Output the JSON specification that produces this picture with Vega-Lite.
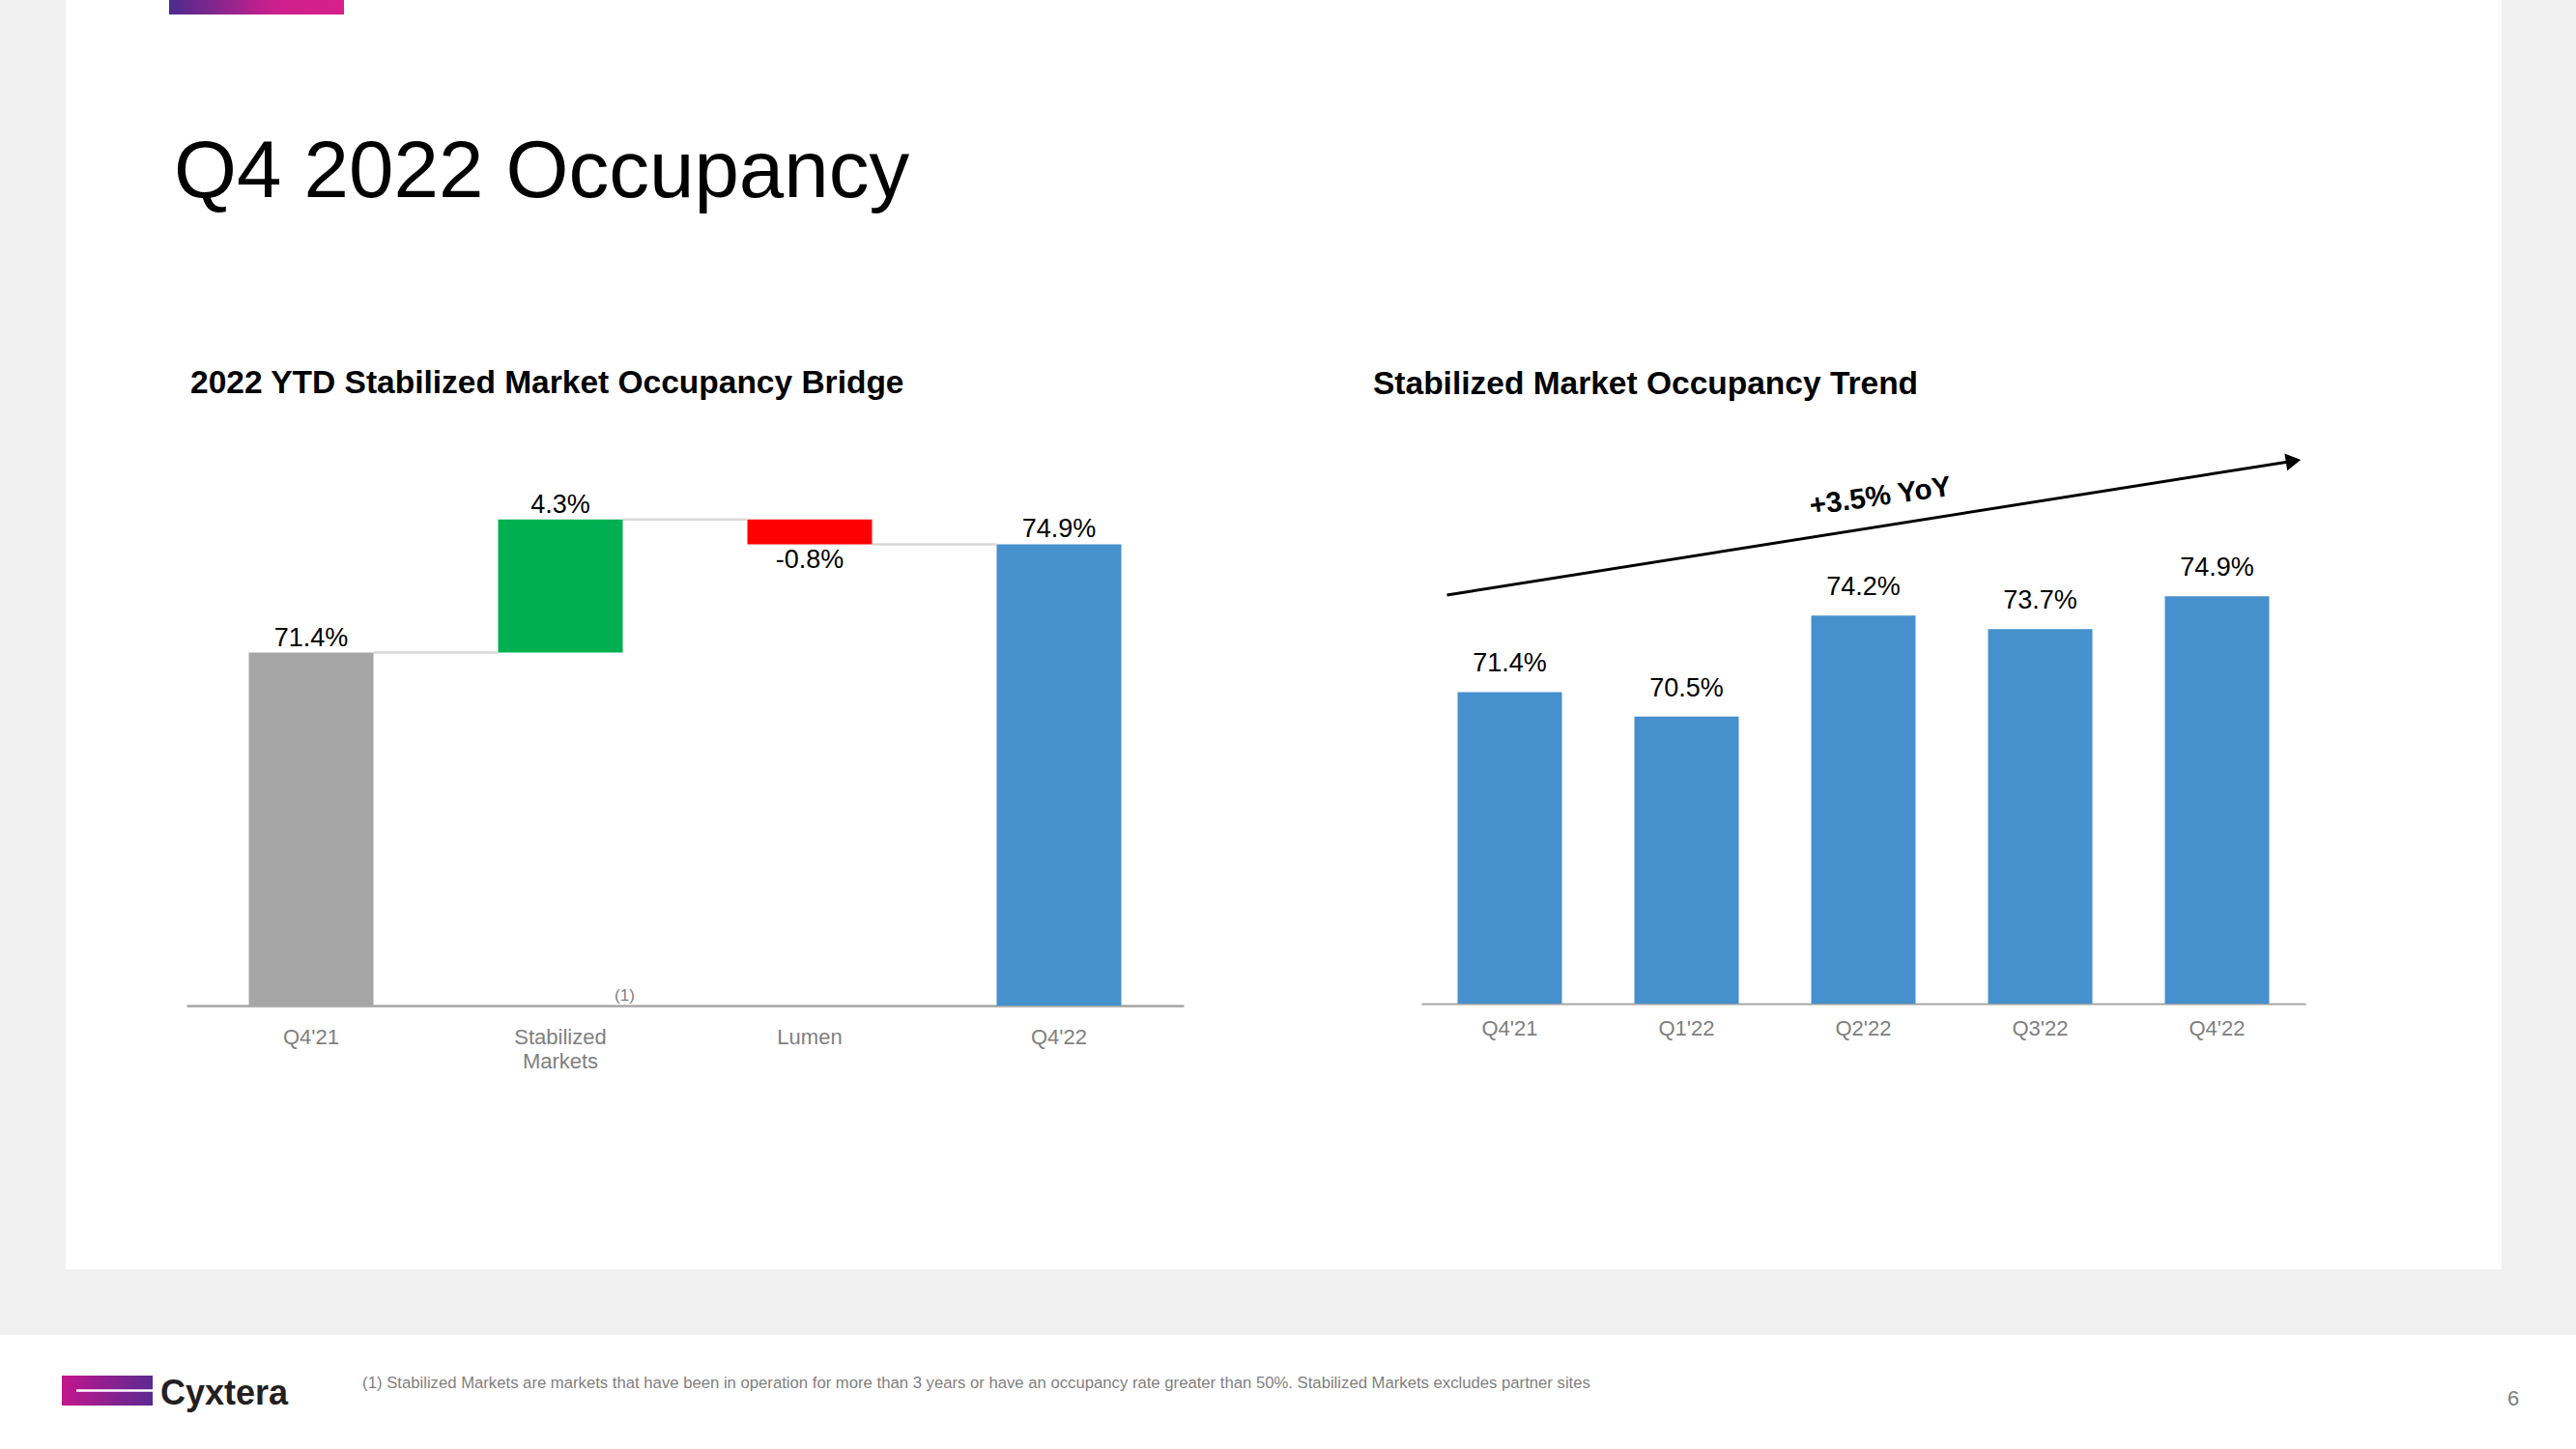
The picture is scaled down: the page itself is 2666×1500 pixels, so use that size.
{
  "$schema": "https://vega.github.io/schema/vega-lite/v6.json",
  "background": "white",
  "padding": 0,
  "config": {
    "font": "Liberation Sans",
    "view": {"stroke": null},
    "concat": {"spacing": 0}
  },
  "vconcat": [
    {
      "hconcat": [
        {"width": 68, "height": 1314, "view": {"fill": "#f0f0f0"}, "data": {"values": [{}]}, "mark": "text", "encoding": {"text": {"value": ""}}},
        {
          "vconcat": [
            {
              "hconcat": [
                {"width": 107, "height": 137, "data": {"values": [{}]}, "mark": "text", "encoding": {"text": {"value": ""}}},
                {"width": 181, "height": 15, "data": {"values": [{}]},
                 "mark": {"type": "rect", "color": {"gradient": "linear", "x1": 0, "x2": 1, "y1": 0, "y2": 0,
                   "stops": [{"offset": 0, "color": "#4b2b8d"}, {"offset": 0.6, "color": "#cc1f8e"}, {"offset": 1, "color": "#d8208a"}]}},
                 "encoding": {}}
              ]
            },
            {
              "title": {"text": "Q4 2022 Occupancy", "anchor": "start", "frame": "group", "dx": 112, "offset": 158, "fontSize": 83.5, "fontWeight": "normal", "color": "#000000"},
              "hconcat": [
                {"width": 125, "height": 20, "data": {"values": [{}]}, "mark": "text", "encoding": {"text": {"value": ""}}},
                {
                  "spacing": 196,
                  "hconcat": [
                    {
                      "width": 1032,
                      "height": 568,
                      "title": {"text": "2022 YTD Stabilized Market Occupancy Bridge", "anchor": "start", "frame": "group", "dx": 4, "offset": 59, "fontSize": 33.5, "fontWeight": "bold", "color": "#000000"},
                      "layer": [
                        {
                          "data": {"values": [
                            {"cat": "Q4'21", "cat2": "Stabilized Markets", "level": 71.4},
                            {"cat": "Stabilized Markets", "cat2": "Lumen", "level": 75.7},
                            {"cat": "Lumen", "cat2": "Q4'22", "level": 74.9}
                          ]},
                          "mark": {"type": "rule", "color": "#d9d9d9", "strokeWidth": 2.5},
                          "encoding": {
                            "x": {"field": "cat", "type": "nominal", "title": null, "bandPosition": 1,
                                  "scale": {"domain": ["Q4'21", "Stabilized Markets", "Lumen", "Q4'22"], "paddingInner": 0.5, "paddingOuter": 0.25},
                                  "axis": {"ticks": false, "domainColor": "#a6a6a6", "domainWidth": 2.5, "labelColor": "#7f7f7f", "labelFontSize": 22, "labelPadding": 22, "labelAngle": 0, "labelLineHeight": 25, "grid": false,
                                           "labelExpr": "datum.value == 'Stabilized Markets' ? ['Stabilized', 'Markets'] : datum.label"}},
                            "x2": {"field": "cat2", "bandPosition": 0},
                            "y": {"field": "level", "type": "quantitative", "scale": {"domain": [60, 77.72], "nice": false, "zero": false}, "axis": null}
                          }
                        },
                        {
                          "data": {"name": "bridge", "values": [
                            {"cat": "Q4'21", "lo": 0, "hi": 71.4, "kind": "Q4'21", "label": "71.4%"},
                            {"cat": "Stabilized Markets", "lo": 71.4, "hi": 75.7, "kind": "Increase", "label": "4.3%"},
                            {"cat": "Lumen", "lo": 74.9, "hi": 75.7, "kind": "Decrease", "label": "-0.8%"},
                            {"cat": "Q4'22", "lo": 0, "hi": 74.9, "kind": "Q4'22", "label": "74.9%"}
                          ]},
                          "layer": [
                            {
                              "mark": {"type": "bar", "clip": true},
                              "encoding": {
                                "x": {"field": "cat", "type": "nominal", "title": null,
                                      "scale": {"domain": ["Q4'21", "Stabilized Markets", "Lumen", "Q4'22"], "paddingInner": 0.5, "paddingOuter": 0.25}},
                                "y": {"field": "hi", "type": "quantitative", "scale": {"domain": [60, 77.72], "nice": false, "zero": false}, "axis": null},
                                "y2": {"field": "lo"},
                                "color": {"field": "kind", "type": "nominal", "legend": null,
                                          "scale": {"domain": ["Q4'21", "Increase", "Decrease", "Q4'22"], "range": ["#a6a6a6", "#00b050", "#ff0000", "#4690cd"]}}
                              }
                            },
                            {
                              "transform": [{"filter": "datum.kind != 'Decrease'"}],
                              "mark": {"type": "text", "fontSize": 27, "color": "#000000", "baseline": "alphabetic", "dy": -7},
                              "encoding": {
                                "x": {"field": "cat", "type": "nominal", "title": null,
                                      "scale": {"domain": ["Q4'21", "Stabilized Markets", "Lumen", "Q4'22"], "paddingInner": 0.5, "paddingOuter": 0.25}},
                                "y": {"field": "hi", "type": "quantitative", "scale": {"domain": [60, 77.72], "nice": false, "zero": false}, "axis": null},
                                "text": {"field": "label"}
                              }
                            },
                            {
                              "transform": [{"filter": "datum.kind == 'Decrease'"}],
                              "mark": {"type": "text", "fontSize": 27, "color": "#000000", "baseline": "alphabetic", "dy": 25},
                              "encoding": {
                                "x": {"field": "cat", "type": "nominal", "title": null,
                                      "scale": {"domain": ["Q4'21", "Stabilized Markets", "Lumen", "Q4'22"], "paddingInner": 0.5, "paddingOuter": 0.25}},
                                "y": {"field": "lo", "type": "quantitative", "scale": {"domain": [60, 77.72], "nice": false, "zero": false}, "axis": null},
                                "text": {"field": "label"}
                              }
                            }
                          ]
                        },
                        {
                          "data": {"values": [{"cat": "Stabilized Markets", "base": 60, "note": "(1)"}]},
                          "mark": {"type": "text", "fontSize": 17, "color": "#7f7f7f", "baseline": "alphabetic", "dy": -5.5, "xOffset": 2},
                          "encoding": {
                            "x": {"field": "cat", "type": "nominal", "title": null, "bandPosition": 1,
                                  "scale": {"domain": ["Q4'21", "Stabilized Markets", "Lumen", "Q4'22"], "paddingInner": 0.5, "paddingOuter": 0.25}},
                            "y": {"field": "base", "type": "quantitative", "scale": {"domain": [60, 77.72], "nice": false, "zero": false}, "axis": null},
                            "text": {"field": "note"}
                          }
                        }
                      ]
                    },
                    {
                      "width": 915,
                      "height": 566,
                      "title": {"text": "Stabilized Market Occupancy Trend", "anchor": "start", "frame": "group", "dx": -50, "offset": 54, "fontSize": 33.5, "fontWeight": "bold", "color": "#000000"},
                      "layer": [
                        {
                          "data": {"values": [
                            {"cat": "Q4'21", "val": 71.4, "label": "71.4%"},
                            {"cat": "Q1'22", "val": 70.5, "label": "70.5%"},
                            {"cat": "Q2'22", "val": 74.2, "label": "74.2%"},
                            {"cat": "Q3'22", "val": 73.7, "label": "73.7%"},
                            {"cat": "Q4'22", "val": 74.9, "label": "74.9%"}
                          ]},
                          "layer": [
                            {
                              "mark": {"type": "bar", "clip": true, "color": "#4690cd"},
                              "encoding": {
                                "x": {"field": "cat", "type": "nominal", "title": null,
                                      "scale": {"domain": ["Q4'21", "Q1'22", "Q2'22", "Q3'22", "Q4'22"], "paddingInner": 0.41, "paddingOuter": 0.205},
                                      "axis": {"ticks": false, "domainColor": "#a6a6a6", "domainWidth": 2, "labelColor": "#7f7f7f", "labelFontSize": 22, "labelPadding": 15, "labelAngle": 0, "grid": false}},
                                "y": {"field": "val", "type": "quantitative", "scale": {"domain": [60, 80], "nice": false, "zero": false}, "axis": null}
                              }
                            },
                            {
                              "mark": {"type": "text", "fontSize": 27, "color": "#000000", "baseline": "alphabetic", "dy": -21},
                              "encoding": {
                                "x": {"field": "cat", "type": "nominal", "title": null,
                                      "scale": {"domain": ["Q4'21", "Q1'22", "Q2'22", "Q3'22", "Q4'22"], "paddingInner": 0.41, "paddingOuter": 0.205}},
                                "y": {"field": "val", "type": "quantitative", "scale": {"domain": [60, 80], "nice": false, "zero": false}, "axis": null},
                                "text": {"field": "label"}
                              }
                            }
                          ]
                        },
                        {
                          "data": {"values": [{"cat": "Q4'21", "cat2": "Q4'22", "y0": 74.95, "y1": 79.85}]},
                          "mark": {"type": "rule", "color": "#000000", "strokeWidth": 3, "xOffset": -11, "x2Offset": 25},
                          "encoding": {
                            "x": {"field": "cat", "type": "nominal", "title": null, "bandPosition": 0,
                                  "scale": {"domain": ["Q4'21", "Q1'22", "Q2'22", "Q3'22", "Q4'22"], "paddingInner": 0.41, "paddingOuter": 0.205}},
                            "x2": {"field": "cat2", "bandPosition": 1},
                            "y": {"field": "y0", "type": "quantitative", "scale": {"domain": [60, 80], "nice": false, "zero": false}, "axis": null},
                            "y2": {"field": "y1"}
                          }
                        },
                        {
                          "data": {"values": [{"cat": "Q4'22", "y1": 79.85}]},
                          "mark": {"type": "point", "shape": "triangle-right", "filled": true, "opacity": 1, "size": 324, "angle": -9, "color": "#000000", "xOffset": 25},
                          "encoding": {
                            "x": {"field": "cat", "type": "nominal", "title": null, "bandPosition": 1,
                                  "scale": {"domain": ["Q4'21", "Q1'22", "Q2'22", "Q3'22", "Q4'22"], "paddingInner": 0.41, "paddingOuter": 0.205}},
                            "y": {"field": "y1", "type": "quantitative", "scale": {"domain": [60, 80], "nice": false, "zero": false}, "axis": null}
                          }
                        },
                        {
                          "data": {"values": [{"cat": "Q2'22", "yv": 78.55, "t": "+3.5% YoY"}]},
                          "mark": {"type": "text", "fontSize": 29.5, "fontWeight": "bold", "color": "#000000", "angle": -8, "align": "center", "baseline": "middle", "xOffset": 17.5},
                          "encoding": {
                            "x": {"field": "cat", "type": "nominal", "title": null,
                                  "scale": {"domain": ["Q4'21", "Q1'22", "Q2'22", "Q3'22", "Q4'22"], "paddingInner": 0.41, "paddingOuter": 0.205}},
                            "y": {"field": "yv", "type": "quantitative", "scale": {"domain": [60, 80], "nice": false, "zero": false}, "axis": null},
                            "text": {"field": "t"}
                          }
                        }
                      ]
                    }
                  ]
                }
              ]
            },
            {"width": 1, "height": 185, "data": {"values": [{}]}, "mark": "text", "encoding": {"text": {"value": ""}}}
          ]
        },
        {"width": 203, "height": 20, "data": {"values": [{}]}, "mark": "text", "encoding": {"text": {"value": ""}}},
        {"width": 78, "height": 1314, "view": {"fill": "#f0f0f0"}, "data": {"values": [{}]}, "mark": "text", "encoding": {"text": {"value": ""}}}
      ]
    },
    {"width": 2666, "height": 68, "view": {"fill": "#f0f0f0"}, "data": {"values": [{}]}, "mark": "text", "encoding": {"text": {"value": ""}}},
    {"width": 1, "height": 41, "data": {"values": [{}]}, "mark": "text", "encoding": {"text": {"value": ""}}},
    {
      "hconcat": [
        {"width": 64, "height": 20, "data": {"values": [{}]}, "mark": "text", "encoding": {"text": {"value": ""}}},
        {
          "width": 94, "height": 31,
          "data": {"values": [{"a": 0.16, "b": 1, "m": 0.5}]},
          "layer": [
            {"mark": {"type": "rect", "color": {"gradient": "linear", "x1": 0, "x2": 1, "y1": 0, "y2": 0,
               "stops": [{"offset": 0, "color": "#c2168c"}, {"offset": 1, "color": "#5a2a91"}]}},
             "encoding": {}},
            {"mark": {"type": "rule", "color": "#ffffff", "strokeWidth": 2.5},
             "encoding": {
               "x": {"field": "a", "type": "quantitative", "scale": {"domain": [0, 1]}, "axis": null},
               "x2": {"field": "b"},
               "y": {"field": "m", "type": "quantitative", "scale": {"domain": [0, 1]}, "axis": null}
             }}
          ]
        },
        {"width": 144, "height": 38, "data": {"values": [{"t": "Cyxtera"}]},
         "mark": {"type": "text", "fontSize": 36, "fontWeight": "bold", "color": "#231f20", "align": "center", "baseline": "middle"},
         "encoding": {"text": {"field": "t"}}},
        {"width": 1413, "height": 15, "data": {"values": [{"t": "(1) Stabilized Markets are markets that have been in operation for more than 3 years or have an occupancy rate greater than 50%. Stabilized Markets excludes partner sites"}]},
         "mark": {"type": "text", "fontSize": 16.7, "color": "#7f7f7f", "align": "center", "baseline": "middle"},
         "encoding": {"text": {"field": "t"}}},
        {"width": 872, "height": 20, "data": {"values": [{}]}, "mark": "text", "encoding": {"text": {"value": ""}}},
        {"width": 24, "height": 47, "data": {"values": [{"t": "6"}]},
         "mark": {"type": "text", "fontSize": 22, "color": "#7f7f7f", "align": "center", "baseline": "middle"},
         "encoding": {"text": {"field": "t"}}}
      ]
    }
  ]
}
